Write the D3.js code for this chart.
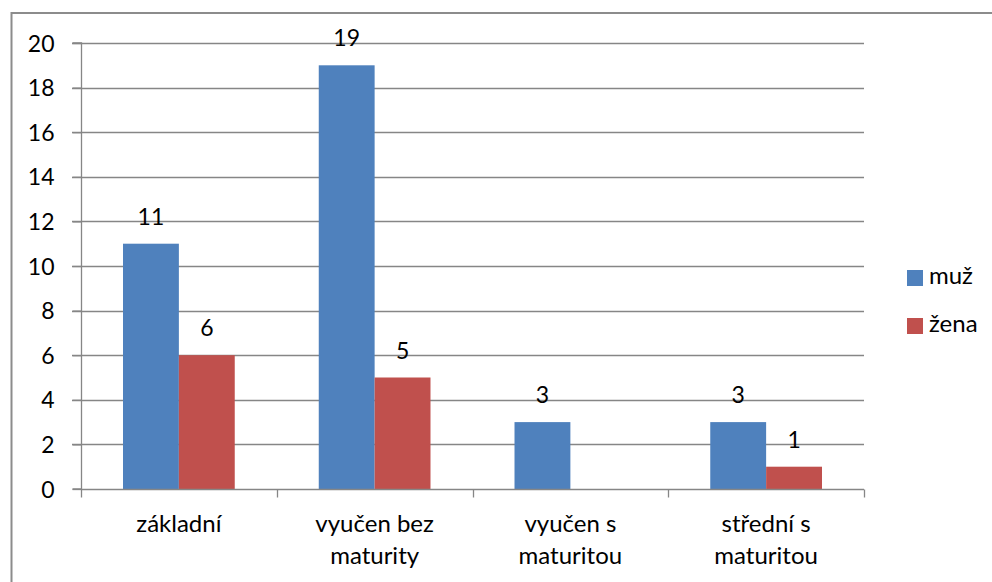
<!DOCTYPE html>
<html>
<head>
<meta charset="utf-8">
<script src="https://cdn.jsdelivr.net/npm/d3@7"></script>
<style>
  html, body { margin: 0; padding: 0; background: #fff; }
  svg { display: block; }
  text { font-family: Lato, "Open Sans", sans-serif; fill: #000; }
</style>
</head>
<body>
<svg id="chart" width="992" height="582"></svg>
<script>
const categories = ["základní", "vyučen bez maturity", "vyučen s maturitou", "střední s maturitou"];
const categoryLines = [["základní"], ["vyučen bez", "maturity"], ["vyučen s", "maturitou"], ["střední s", "maturitou"]];
const seriesNames = ["muž", "žena"];
const muz = [11, 19, 3, 3];
const zena = [6, 5, null, 1];
const yTicks = [0, 2, 4, 6, 8, 10, 12, 14, 16, 18, 20];
const colors = ["#4F81BD", "#C0504D"];

const seriesValues = [muz, zena];
const svg = d3.select("#chart");
const W = 992, H = 582;
const plot = { left: 81, right: 864, top: 43, bottom: 489 };
const gridColor = "#868686";
const fontSize = 23;
const catFontSize = 24;

// outer border
svg.append("rect")
  .attr("x", 11.5).attr("y", 13)
  .attr("width", W).attr("height", H)
  .attr("fill", "none").attr("stroke", "#8c8c8c").attr("stroke-width", 2);

const y = d3.scaleLinear().domain([0, 20]).range([plot.bottom, plot.top]);
const x0 = d3.scaleBand().domain(categories).range([plot.left, plot.right]).padding(0);
const x1 = d3.scaleBand().domain(seriesNames)
  .range([x0.bandwidth() * 0.2146, x0.bandwidth() * (1 - 0.2146)]).padding(0);

// gridlines
svg.append("g").selectAll("line").data(yTicks.filter(d => d > 0)).join("line")
  .attr("x1", plot.left - 9).attr("x2", plot.right)
  .attr("y1", d => Math.round(y(d)) + 0.5).attr("y2", d => Math.round(y(d)) + 0.5)
  .attr("stroke", gridColor).attr("stroke-width", 1.3);

// bars
const groups = svg.append("g").selectAll("g").data(categories).join("g")
  .attr("transform", d => `translate(${x0(d)},0)`);
groups.selectAll("rect")
  .data((d, i) => seriesNames.map((s, j) => ({ s, v: seriesValues[j][i], j })))
  .join("rect")
  .filter(d => d.v != null)
  .attr("x", d => x1(d.s))
  .attr("y", d => y(d.v))
  .attr("width", x1.bandwidth())
  .attr("height", d => y(0) - y(d.v))
  .attr("fill", d => colors[d.j]);

// value labels
groups.selectAll("text.val")
  .data((d, i) => seriesNames.map((s, j) => ({ s, v: seriesValues[j][i], j })).filter(d => d.v != null))
  .join("text").attr("class", "val")
  .attr("x", d => x1(d.s) + x1.bandwidth() / 2)
  .attr("y", d => y(d.v) - 19)
  .attr("text-anchor", "middle")
  .attr("font-size", fontSize)
  .text(d => d.v);

// y axis
const yAxis = d3.axisLeft(y).tickValues(yTicks).tickSize(9).tickPadding(18).tickFormat(d3.format("d"));
const gy = svg.append("g").attr("transform", `translate(${plot.left + 0.5},0)`).call(yAxis);
gy.select(".domain").attr("stroke", gridColor).attr("stroke-width", 1.3).attr("d", `M-9,${plot.bottom}H0V${plot.top}H-9`);
gy.selectAll(".tick line").attr("stroke", gridColor).attr("stroke-width", 1.3);
gy.selectAll(".tick text").attr("font-size", fontSize).attr("font-family", "Lato, sans-serif").attr("fill", "#000").attr("dy", "0.35em");

// x axis
const xAxis = d3.axisBottom(x0).tickSize(0).tickFormat("");
const gx = svg.append("g").attr("transform", `translate(0,${Math.round(y(0)) + 0.5})`).call(xAxis);
gx.select(".domain").attr("stroke", gridColor).attr("stroke-width", 1.3).attr("d", `M${plot.left},0H${plot.right}`);
const boundaries = categories.map(c => x0(c)).concat([plot.right]);
gx.selectAll("line.bt").data(boundaries).join("line").attr("class", "bt")
  .attr("x1", d => Math.round(d) + 0.5).attr("x2", d => Math.round(d) + 0.5)
  .attr("y1", 0).attr("y2", 8)
  .attr("stroke", gridColor).attr("stroke-width", 1.3);

// category labels
const cl = svg.append("g").selectAll("text").data(categories).join("text")
  .attr("text-anchor", "middle")
  .attr("font-size", catFontSize)
  .attr("x", d => x0(d) + x0.bandwidth() / 2)
  .attr("y", 532);
cl.selectAll("tspan").data((d, i) => categoryLines[i]).join("tspan")
  .attr("x", function () { return d3.select(this.parentNode).attr("x"); })
  .attr("dy", (d, i) => i === 0 ? 0 : 32)
  .text(d => d);

// legend
const lg = svg.append("g").selectAll("g").data(seriesNames).join("g")
  .attr("transform", (d, i) => `translate(907,${270 + i * 48})`);
lg.append("rect").attr("width", 16).attr("height", 16).attr("fill", (d, i) => colors[i]);
lg.append("text").attr("x", 22).attr("y", 14).attr("font-size", catFontSize).text(d => d);
</script>
</body>
</html>
